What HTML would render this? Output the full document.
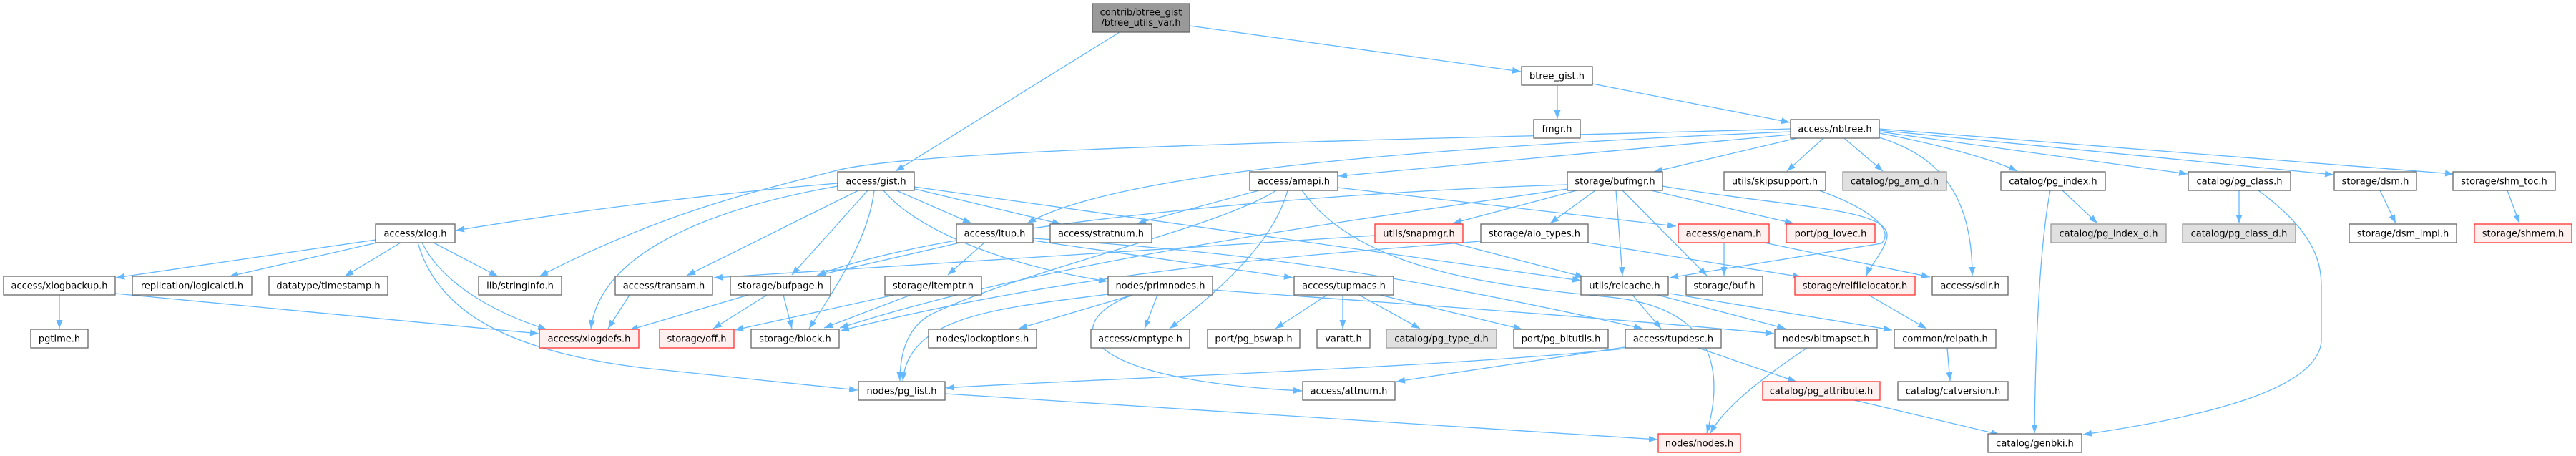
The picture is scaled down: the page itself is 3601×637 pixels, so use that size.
<!DOCTYPE html>
<html><head><meta charset="utf-8"><style>
html,body{margin:0;padding:0;background:#fff;}
svg{display:block;}
text{font-family:"DejaVu Sans","Liberation Sans",sans-serif;font-size:13px;fill:#000;text-anchor:middle;}
.n{fill:#fff;stroke:#666;stroke-width:1.3;}
.r{fill:#fff0f0;stroke:#ff3030;stroke-width:1.3;}
.g{fill:#e0e0e0;stroke:#999;stroke-width:1.3;}
.t{fill:#999;stroke:#666;stroke-width:1.3;}
.e{fill:none;stroke:#63b8ff;stroke-width:1.3;marker-end:url(#a);}
</style></head><body>
<svg width="3601" height="637" viewBox="0 0 3601 637" xmlns="http://www.w3.org/2000/svg">
<defs><marker id="a" viewBox="0 0 12 9" refX="12" refY="4.5" markerWidth="12" markerHeight="9" markerUnits="userSpaceOnUse" orient="auto"><path d="M0,0 L12,4.5 L0,9 z" fill="#63b8ff"/></marker></defs>
<g>
<path class="e" d="M1565,45 L1252,239"/>
<path class="e" d="M1663,36 L2126,100"/>
<path class="e" d="M2177,119 L2177,166"/>
<path class="e" d="M2226,117 L2502,171"/>
<path class="e" d="M2503,188 L1871,246"/>
<path class="e" d="M2503,184 C2000,205 1560,240 1436,312"/>
<path class="e" d="M2503,180 C2000,195 1300,205 1170,238 S920,300 754,386"/>
<path class="e" d="M2512,193 L2312,240"/>
<path class="e" d="M2549,193 L2498,239"/>
<path class="e" d="M2578,193 L2632,239"/>
<path class="e" d="M2627,186 C2700,200 2780,220 2820,239"/>
<path class="e" d="M2627,184 L3058,243"/>
<path class="e" d="M2627,182 L3262,244"/>
<path class="e" d="M2627,180 L3430,243"/>
<path class="e" d="M2627,192 C2700,215 2757,260 2757,385"/>
<path class="e" d="M1171,256 C1000,270 800,295 637,322"/>
<path class="e" d="M1171,260 C1000,290 840,350 826,459"/>
<path class="e" d="M1200,266 L960,385"/>
<path class="e" d="M1213,266 L1107,384"/>
<path class="e" d="M1222,266 C1215,330 1170,400 1131,459"/>
<path class="e" d="M1235,266 C1280,320 1400,370 1548,393"/>
<path class="e" d="M1253,266 L1358,312"/>
<path class="e" d="M1275,263 L1483,313"/>
<path class="e" d="M1278,261 L2210,392"/>
<path class="e" d="M1760,266 L1590,312"/>
<path class="e" d="M1800,266 C1780,340 1700,410 1635,459"/>
<path class="e" d="M1784,266 C1700,320 1420,380 1300,440 C1265,460 1258,500 1258,532"/>
<path class="e" d="M1870,262 L2343,316"/>
<path class="e" d="M1820,266 C1900,380 2100,400 2250,415 C2400,430 2410,520 2386,605"/>
<path class="e" d="M2191,258 C1800,270 1300,320 1142,385"/>
<path class="e" d="M2191,264 C1800,320 1450,370 1174,458"/>
<path class="e" d="M2070,337 C1800,358 1500,380 1175,462"/>
<path class="e" d="M2204,266 L2031,312"/>
<path class="e" d="M2230,266 L2167,312"/>
<path class="e" d="M2259,266 L2268,385"/>
<path class="e" d="M2268,266 L2386,385"/>
<path class="e" d="M2308,266 L2507,312"/>
<path class="e" d="M2324,260 C2500,290 2640,290 2638,330 C2635,350 2615,370 2609,385"/>
<path class="e" d="M2543,266 C2610,290 2650,320 2630,340 L2334,388"/>
<path class="e" d="M1922,329 L998,388"/>
<path class="e" d="M2030,339 L2214,387"/>
<path class="e" d="M2410,339 L2410,385"/>
<path class="e" d="M2466,339 L2698,387"/>
<path class="e" d="M2220,339 L2518,387"/>
<path class="e" d="M1342,339 L1142,385"/>
<path class="e" d="M1376,339 L1325,384"/>
<path class="e" d="M1444,336 L1807,388"/>
<path class="e" d="M1444,333 C1700,350 1900,370 2296,459"/>
<path class="e" d="M1583,412 L1424,459"/>
<path class="e" d="M1618,412 L1600,459"/>
<path class="e" d="M1583,412 C1480,450 1500,530 1820,546"/>
<path class="e" d="M1695,405 C1900,420 2200,440 2480,466"/>
<path class="e" d="M1549,411 C1400,430 1270,440 1262,532"/>
<path class="e" d="M1250,412 L1027,461"/>
<path class="e" d="M1273,412 L1152,458"/>
<path class="e" d="M1072,412 L997,459"/>
<path class="e" d="M1095,412 L1107,459"/>
<path class="e" d="M1046,412 L880,461"/>
<path class="e" d="M880,412 L850,459"/>
<path class="e" d="M525,335 L162,388"/>
<path class="e" d="M527,339 L321,386"/>
<path class="e" d="M560,339 L482,386"/>
<path class="e" d="M606,339 L696,386"/>
<path class="e" d="M590,339 C620,400 700,440 764,460"/>
<path class="e" d="M584,339 C610,430 700,490 900,514 L1199,545"/>
<path class="e" d="M161,410 L753,466"/>
<path class="e" d="M83,412 L83,459"/>
<path class="e" d="M1855,412 L1783,459"/>
<path class="e" d="M1877,412 L1877,459"/>
<path class="e" d="M1900,412 L1985,459"/>
<path class="e" d="M1929,412 L2128,460"/>
<path class="e" d="M2282,412 L2322,459"/>
<path class="e" d="M2317,412 L2496,459"/>
<path class="e" d="M2334,410 L2645,461"/>
<path class="e" d="M2612,412 L2693,459"/>
<path class="e" d="M2271,485 L1952,533"/>
<path class="e" d="M2271,487 C2000,515 1500,530 1322,542"/>
<path class="e" d="M2374,486 L2511,533"/>
<path class="e" d="M2526,486 C2460,530 2410,570 2391,605"/>
<path class="e" d="M1321,550 L2317,614"/>
<path class="e" d="M2592,559 L2795,607"/>
<path class="e" d="M2722,486 L2726,532"/>
<path class="e" d="M2866,266 C2850,350 2845,500 2844,605"/>
<path class="e" d="M2883,266 L2932,312"/>
<path class="e" d="M3130,266 L3130,312"/>
<path class="e" d="M3157,266 C3230,320 3245,360 3245,400 L3245,477 C3240,540 3100,580 2912,607"/>
<path class="e" d="M3327,266 L3349,312"/>
<path class="e" d="M3505,266 L3522,312"/>
</g>
<g>
<rect class="t" x="1527" y="5" width="136" height="40"/><text x="1595" y="21.5">contrib/btree_gist</text><text x="1595" y="36">/btree_utils_var.h</text>

<rect class="n" x="2127" y="93" width="99" height="26"/><text x="2176.5" y="110.5">btree_gist.h</text>

<rect class="n" x="2144" y="167" width="65" height="26"/><text x="2176.5" y="184.5">fmgr.h</text>
<rect class="n" x="2503" y="167" width="124" height="26"/><text x="2565" y="184.5">access/nbtree.h</text>

<rect class="n" x="1171" y="240" width="107" height="26"/><text x="1224.5" y="257.5">access/gist.h</text>
<rect class="n" x="1747" y="240" width="123" height="26"/><text x="1808.5" y="257.5">access/amapi.h</text>
<rect class="n" x="2191" y="240" width="133" height="26"/><text x="2257.5" y="257.5">storage/bufmgr.h</text>
<rect class="n" x="2410" y="240" width="142" height="26"/><text x="2481" y="257.5">utils/skipsupport.h</text>
<rect class="g" x="2576" y="240" width="145" height="26"/><text x="2648.5" y="257.5">catalog/pg_am_d.h</text>
<rect class="n" x="2797" y="240" width="146" height="26"/><text x="2870" y="257.5">catalog/pg_index.h</text>
<rect class="n" x="3059" y="240" width="143" height="26"/><text x="3130.5" y="257.5">catalog/pg_class.h</text>
<rect class="n" x="3263" y="240" width="115" height="26"/><text x="3320.5" y="257.5">storage/dsm.h</text>
<rect class="n" x="3429" y="240" width="143" height="26"/><text x="3500.5" y="257.5">storage/shm_toc.h</text>

<rect class="n" x="525" y="313" width="111" height="26"/><text x="580.5" y="330.5">access/xlog.h</text>
<rect class="n" x="1337" y="313" width="107" height="26"/><text x="1390.5" y="330.5">access/itup.h</text>
<rect class="n" x="1468" y="313" width="142" height="26"/><text x="1539" y="330.5">access/stratnum.h</text>
<rect class="r" x="1922" y="313" width="123" height="26"/><text x="1983.5" y="330.5">utils/snapmgr.h</text>
<rect class="n" x="2070" y="313" width="150" height="26"/><text x="2145" y="330.5">storage/aio_types.h</text>
<rect class="r" x="2346" y="313" width="127" height="26"/><text x="2409.5" y="330.5">access/genam.h</text>
<rect class="r" x="2497" y="313" width="124" height="26"/><text x="2559" y="330.5">port/pg_iovec.h</text>
<rect class="g" x="2867" y="313" width="161" height="26"/><text x="2947.5" y="330.5">catalog/pg_index_d.h</text>
<rect class="g" x="3051" y="313" width="158" height="26"/><text x="3130" y="330.5">catalog/pg_class_d.h</text>
<rect class="n" x="3284" y="313" width="150" height="26"/><text x="3359" y="330.5">storage/dsm_impl.h</text>
<rect class="r" x="3459" y="313" width="136" height="26"/><text x="3527" y="330.5">storage/shmem.h</text>

<rect class="n" x="5" y="386" width="156" height="26"/><text x="83" y="403.5">access/xlogbackup.h</text>
<rect class="n" x="185" y="386" width="167" height="26"/><text x="268.5" y="403.5">replication/logicalctl.h</text>
<rect class="n" x="376" y="386" width="166" height="26"/><text x="459" y="403.5">datatype/timestamp.h</text>
<rect class="n" x="669" y="386" width="116" height="26"/><text x="727" y="403.5">lib/stringinfo.h</text>
<rect class="n" x="860" y="386" width="136" height="26"/><text x="928" y="403.5">access/transam.h</text>
<rect class="n" x="1021" y="386" width="140" height="26"/><text x="1091" y="403.5">storage/bufpage.h</text>
<rect class="n" x="1237" y="386" width="135" height="26"/><text x="1304.5" y="403.5">storage/itemptr.h</text>
<rect class="n" x="1549" y="386" width="146" height="26"/><text x="1622" y="403.5">nodes/primnodes.h</text>
<rect class="n" x="1809" y="386" width="139" height="26"/><text x="1878.5" y="403.5">access/tupmacs.h</text>
<rect class="n" x="2210" y="386" width="122" height="26"/><text x="2271" y="403.5">utils/relcache.h</text>
<rect class="n" x="2357" y="386" width="107" height="26"/><text x="2410.5" y="403.5">storage/buf.h</text>
<rect class="r" x="2509" y="386" width="168" height="26"/><text x="2593" y="403.5">storage/relfilelocator.h</text>
<rect class="n" x="2701" y="386" width="106" height="26"/><text x="2754" y="403.5">access/sdir.h</text>

<rect class="n" x="43" y="460" width="80" height="26"/><text x="83" y="477.5">pgtime.h</text>
<rect class="r" x="754" y="460" width="139" height="26"/><text x="823.5" y="477.5">access/xlogdefs.h</text>
<rect class="r" x="922" y="460" width="104" height="26"/><text x="974" y="477.5">storage/off.h</text>
<rect class="n" x="1050" y="460" width="123" height="26"/><text x="1111.5" y="477.5">storage/block.h</text>
<rect class="n" x="1298" y="460" width="151" height="26"/><text x="1373.5" y="477.5">nodes/lockoptions.h</text>
<rect class="n" x="1525" y="460" width="138" height="26"/><text x="1594" y="477.5">access/cmptype.h</text>
<rect class="n" x="1688" y="460" width="129" height="26"/><text x="1752.5" y="477.5">port/pg_bswap.h</text>
<rect class="n" x="1841" y="460" width="74" height="26"/><text x="1878" y="477.5">varatt.h</text>
<rect class="g" x="1938" y="460" width="154" height="26"/><text x="2015" y="477.5">catalog/pg_type_d.h</text>
<rect class="n" x="2116" y="460" width="132" height="26"/><text x="2182" y="477.5">port/pg_bitutils.h</text>
<rect class="n" x="2272" y="460" width="134" height="26"/><text x="2339" y="477.5">access/tupdesc.h</text>
<rect class="n" x="2481" y="460" width="143" height="26"/><text x="2552.5" y="477.5">nodes/bitmapset.h</text>
<rect class="n" x="2648" y="460" width="142" height="26"/><text x="2719" y="477.5">common/relpath.h</text>

<rect class="n" x="1200" y="533" width="121" height="26"/><text x="1260.5" y="550.5">nodes/pg_list.h</text>
<rect class="n" x="1821" y="533" width="129" height="26"/><text x="1885.5" y="550.5">access/attnum.h</text>
<rect class="r" x="2464" y="533" width="164" height="26"/><text x="2546" y="550.5">catalog/pg_attribute.h</text>
<rect class="n" x="2653" y="533" width="154" height="26"/><text x="2730" y="550.5">catalog/catversion.h</text>

<rect class="r" x="2318" y="606" width="115" height="26"/><text x="2375.5" y="623.5">nodes/nodes.h</text>
<rect class="n" x="2779" y="606" width="131" height="26"/><text x="2844.5" y="623.5">catalog/genbki.h</text>
</g>
</svg>
</body></html>
